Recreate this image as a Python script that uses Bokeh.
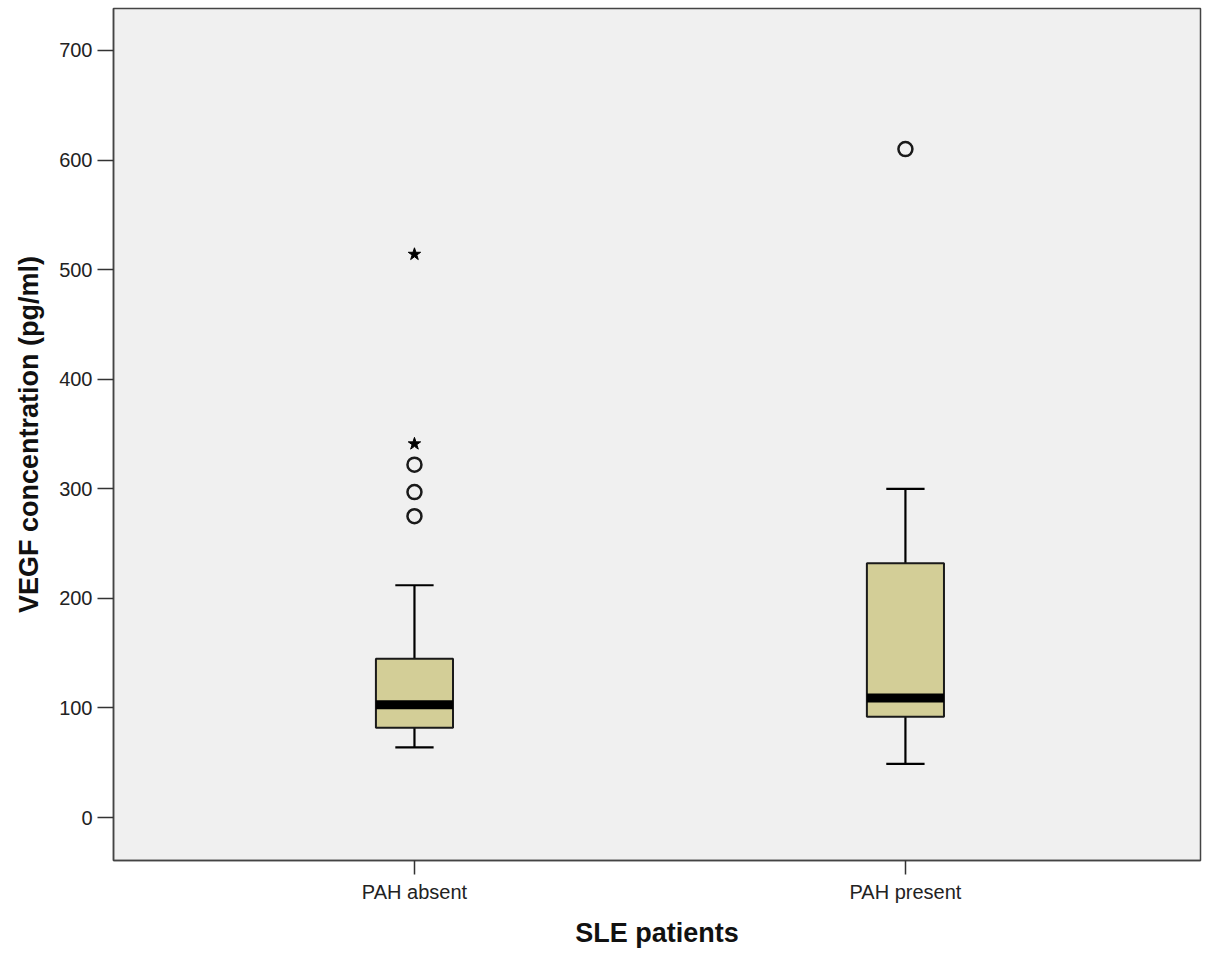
from bokeh.plotting import figure
from bokeh.models import ColumnDataSource, FixedTicker, Range1d
from bokeh.embed import file_html
from bokeh.resources import INLINE

# VEGF summary statistics per group (pg/ml)
groups = ["PAH absent", "PAH present"]
whisker_low = [64, 49]
q1 = [82, 92]
median = [103, 109]
q3 = [145, 232]
whisker_high = [212, 300]

# outliers: circles are mild outliers, stars are extreme ones
circle_group = [0, 0, 0, 1]
circle_values = [275, 297, 322, 610]
star_group = [0, 0]
star_values = [341, 514]

xpos = [1, 2]
box_w = 0.157
cap_w = 0.078

p = figure(width=1213, height=958, output_backend="svg", toolbar_location=None,
           x_range=Range1d(0.387, 2.601), y_range=Range1d(-39.2, 738.3),
           min_border_left=113, min_border_right=13, min_border_top=8, min_border_bottom=98)
p.background_fill_color = "#f0f0f0"
p.border_fill_color = "white"
p.outline_line_color = "#444444"
p.outline_line_width = 1.5
p.grid.visible = False

src = ColumnDataSource(dict(x=xpos, lo=whisker_low, q1=q1, med=median, q3=q3, hi=whisker_high,
                            xl=[x - cap_w / 2 for x in xpos], xr=[x + cap_w / 2 for x in xpos],
                            bl=[x - box_w / 2 for x in xpos], br=[x + box_w / 2 for x in xpos]))

# whisker stems and caps
p.segment(x0="x", y0="q3", x1="x", y1="hi", source=src, line_color="black", line_width=2.2)
p.segment(x0="x", y0="lo", x1="x", y1="q1", source=src, line_color="black", line_width=2.2)
p.segment(x0="xl", y0="hi", x1="xr", y1="hi", source=src, line_color="black", line_width=2.2)
p.segment(x0="xl", y0="lo", x1="xr", y1="lo", source=src, line_color="black", line_width=2.2)

# boxes
p.vbar(x="x", bottom="q1", top="q3", width=box_w, source=src,
       fill_color="#d3ce97", line_color="#1a1a1a", line_width=2)
# median bar
p.segment(x0="bl", y0="med", x1="br", y1="med", source=src, line_color="black", line_width=9)

# outliers
p.scatter([xpos[g] for g in circle_group], circle_values, marker="circle", size=14,
          fill_color=None, line_color="#1a1a1a", line_width=2.5)
p.scatter([xpos[g] for g in star_group], star_values, marker="star", size=13,
          fill_color="black", line_color="black", line_width=1)

# axes
p.yaxis.ticker = FixedTicker(ticks=[0, 100, 200, 300, 400, 500, 600, 700])
p.yaxis.axis_label = "VEGF concentration (pg/ml)"
p.xaxis.ticker = FixedTicker(ticks=xpos)
p.xaxis.major_label_overrides = {1: groups[0], 2: groups[1]}
p.xaxis.axis_label = "SLE patients"
for ax in (p.xaxis[0], p.yaxis[0]):
    ax.axis_line_color = "#444444"
    ax.axis_line_width = 1.5
    ax.major_tick_line_color = "#333333"
    ax.major_tick_line_width = 1.5
    ax.minor_tick_line_color = None
    ax.major_tick_in = 0
    ax.major_label_text_font = "Liberation Sans"
    ax.major_label_text_font_size = "20px"
    ax.major_label_text_color = "#222222"
    ax.axis_label_text_font = "Liberation Sans"
    ax.axis_label_text_font_size = "27px"
    ax.axis_label_text_font_style = "bold"
    ax.axis_label_text_color = "#111111"
p.yaxis.major_tick_out = 16
p.yaxis.major_label_standoff = 5
p.yaxis.axis_label_standoff = 12
p.xaxis.major_tick_out = 14
p.xaxis.major_label_standoff = 6
p.xaxis.axis_label_standoff = 12

open("out.html", "w").write(file_html(p, INLINE))
